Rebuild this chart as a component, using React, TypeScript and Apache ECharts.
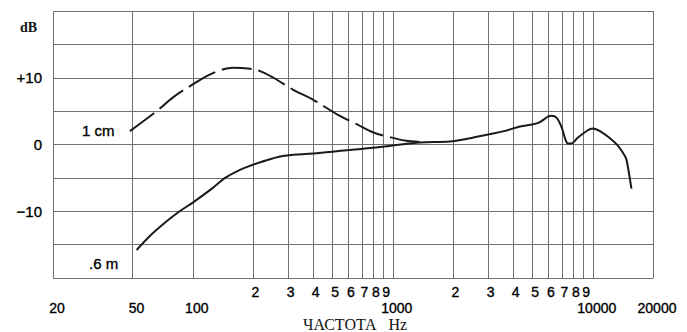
import React, { useEffect, useRef } from "react";
import * as echarts from "echarts";

// Frequency response at 0.6 m (solid) — [Hz, dB]
const freqFar = [52.4, 61, 74, 86, 100, 126, 145, 172, 193, 243, 294, 400, 590, 800, 1000, 1370, 1930, 2400, 3000, 3600, 4325, 5300, 6000, 6200, 6600, 7000, 7300, 7500, 7800, 8400, 9400, 10000, 11000, 12100, 13400, 14500, 14800, 15600];
const dbFar = [-15.8, -13.7, -11.5, -10.0, -8.7, -6.5, -5.0, -3.8, -3.2, -2.2, -1.65, -1.35, -0.85, -0.5, -0.15, 0.3, 0.45, 0.9, 1.5, 2.0, 2.7, 3.2, 4.2, 4.3, 4.0, 2.5, 0.75, 0.15, 0.15, 1.0, 2.1, 2.4, 1.9, 1.0, -0.25, -1.75, -2.5, -6.6];

// Frequency response at 1 cm (dashed) — [Hz, dB]
const freqNear = [48.5, 66, 80, 100, 126, 159, 188, 217, 253, 318, 400, 535, 663, 800, 940, 1150, 1480];
const dbNear = [2.0, 5.0, 7.1, 9.0, 10.7, 11.5, 11.4, 11.0, 10.0, 8.2, 6.7, 4.4, 3.0, 1.8, 1.2, 0.6, 0.3];

// Vertical grid lines (Hz)
const gridFreqs = [20, 50, 100, 200, 300, 400, 500, 600, 700, 800, 900, 1000, 2000, 3000, 4000, 5000, 6000, 7000, 8000, 9000, 10000, 20000];
// Tick labels
const mainTicks = [20, 50, 100, 1000, 10000, 20000];
const subTicks = [200, 300, 400, 500, 600, 700, 800, 900, 2000, 3000, 4000, 5000, 6000, 7000, 8000, 9000];
const yLabelValues = [10, 0, -10];
const yLabelTexts = ["+10", "0", "\u221210"];

const farLabel = ".6 m";
const nearLabel = "1 cm";
const yUnit = "dB";
const xTitle = "ЧАСТОТА   Hz";

export default function App() {
  const ref = useRef<HTMLDivElement>(null);
  useEffect(() => {
    if (!ref.current) return;
    const chart = echarts.init(ref.current, null, { renderer: "svg" });
    const gridColor = "#707070";
    const sans = "Liberation Sans";
    const serif = "Liberation Serif";
    const lblColor = "#000";
    const heavy = { textBorderColor: "#000", textBorderWidth: 0.35 };
    const xBase = {
      type: "log" as const,
      logBase: 10,
      min: 20,
      max: 20000,
      gridIndex: 0,
      position: "bottom" as const,
      axisLine: { show: false },
      axisTick: { show: false },
      splitLine: { show: false },
    };
    chart.setOption({
      animation: false,
      backgroundColor: "#fff",
      grid: { left: 53, right: 34, top: 11, bottom: 54 },
      xAxis: [
        {
          ...xBase,
          axisLabel: {
            customValues: mainTicks,
            formatter: (v: number) => String(Math.round(v)),
            margin: 23,
            fontFamily: sans,
            fontSize: 14,
            color: lblColor,
            ...heavy,
            padding: [0, 0, 0, 8],
            showMinLabel: true,
            showMaxLabel: true,
          },
        },
        {
          ...xBase,
          axisLabel: {
            customValues: subTicks,
            formatter: (v: number) => {
              const p = Math.pow(10, Math.floor(Math.log10(v) + 1e-9));
              return String(Math.round(v / p));
            },
            margin: 7,
            fontFamily: sans,
            fontSize: 14,
            color: lblColor,
            ...heavy,
            padding: [0, 0, 0, 5],
          },
        },
      ],
      yAxis: {
        type: "value",
        min: -20,
        max: 20,
        interval: 5,
        axisLine: { show: false },
        axisTick: { show: false },
        splitLine: { show: true, lineStyle: { color: gridColor, width: 1 } },
        axisLabel: {
          margin: 11,
          fontFamily: sans,
          fontSize: 15,
          color: lblColor,
          ...heavy,
          formatter: (v: number) => {
            const i = yLabelValues.indexOf(v);
            return i >= 0 ? yLabelTexts[i] : "";
          },
        },
      },
      series: [
        {
          type: "line",
          name: farLabel,
          xAxisIndex: 0,
          data: freqFar.map((f, i) => [f, dbFar[i]]),
          smooth: 0.35,
          showSymbol: false,
          silent: true,
          lineStyle: { color: "#1a1a1a", width: 2 },
          z: 3,
          markLine: {
            silent: true,
            symbol: ["none", "none"],
            label: { show: false },
            emphasis: { disabled: true },
            lineStyle: { color: gridColor, width: 1, type: "solid" },
            data: gridFreqs.map((f) => ({ xAxis: f })),
            z: 1,
          },
        },
        {
          type: "line",
          name: nearLabel,
          xAxisIndex: 0,
          data: freqNear.map((f, i) => [f, dbNear[i]]),
          smooth: 0.35,
          showSymbol: false,
          silent: true,
          lineStyle: { color: "#1a1a1a", width: 2, type: [30, 7] },
          z: 3,
        },
      ],
      graphic: [
        { type: "text", left: 20, top: 20, style: { text: yUnit, font: `bold 14px "${serif}"`, fill: "#111" } },
        { type: "text", x: 82, y: 130, style: { text: nearLabel, font: `15px "${sans}"`, fill: "#000", stroke: "#000", lineWidth: 0.35, textVerticalAlign: "middle" } },
        { type: "text", x: 89, y: 263, style: { text: farLabel, font: `15px "${sans}"`, fill: "#000", stroke: "#000", lineWidth: 0.35, textVerticalAlign: "middle" } },
        { type: "text", x: 303, y: 332, style: { text: xTitle, font: `16px "${serif}"`, fill: "#111", textVerticalAlign: "bottom" } },
      ],
    });
    return () => chart.dispose();
  }, []);
  return <div ref={ref} style={{ position: "absolute", left: 0, top: 0, width: 687, height: 332 }} />;
}
